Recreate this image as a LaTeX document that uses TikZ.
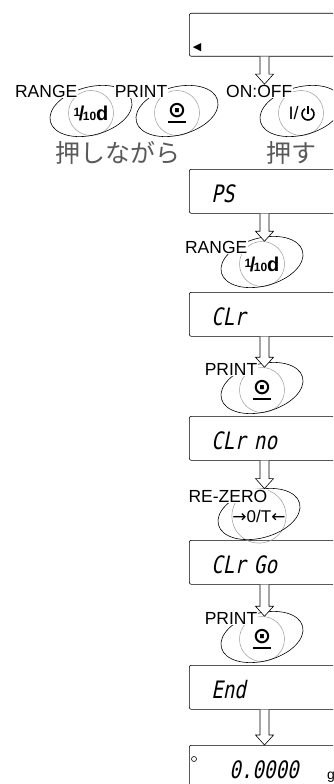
\documentclass[tikz,border=0pt]{standalone}
\usepackage{fontspec}
\setsansfont{Liberation Sans}
\newfontfamily\jpfont{Noto Sans CJK JP}
\newfontfamily\lcdfont{DejaVu Sans Mono}[FakeSlant=0.2,FakeStretch=0.8]
\newfontfamily\symfont{DejaVu Sans}
\usetikzlibrary{positioning, calc}

\tikzset{
	lcd/.style={draw, line width=0.6pt, rounded corners=2pt, anchor=north west, minimum height=44pt,
		text width=150pt, inner xsep=22pt, align=left, text height=22pt, text depth=0pt,
		font=\lcdfont\fontsize{24}{24}\selectfont},
	key/.style={circle, draw=black!40, line width=0.5pt, minimum size=45pt, inner sep=0pt,
		font=\sffamily\bfseries\fontsize{20}{20}\selectfont},
	shell/.style={line width=0.6pt},
	keyname/.style={fill=white, inner sep=0.5pt, font=\sffamily\fontsize{17.5}{17.5}\selectfont},
	arrowline/.style={line width=0.6pt, fill=white},
	jp/.style={font=\jpfont\fontsize{25}{25}\selectfont, text=black!65}
}

% hollow arrow from the bottom of a display down to the next item
\newcommand{\fatarrow}[2]{%
	\coordinate (fa-s) at ($(#1.south west)+(75.5,0)$);
	\coordinate (fa-t) at (fa-s |- #2);
	\draw[arrowline] ($(fa-s)+(-4.5,0)$) -- ($(fa-t)+(-4.5,-10)$) -- ($(fa-t)+(-9,-10)$) -- (fa-t)
		-- ($(fa-t)+(9,-10)$) -- ($(fa-t)+(4.5,-10)$) -- ($(fa-s)+(4.5,0)$);}
% tilted finger outline round a key
\newcommand{\shell}[1]{%
	\begin{scope}[shift={($(#1)+(0,-2)$)}, rotate=15]
	\draw[shell] (0,0) ellipse [x radius=42pt, y radius=24pt];
	\end{scope}}
\newcommand{\tenth}{\raisebox{4pt}{\fontsize{12}{12}\selectfont 1}\kern-1.5pt/\kern-1.5pt{\fontsize{12}{12}\selectfont 10}d}
\newcommand{\printsym}{\shortstack{{\symfont\fontsize{22}{22}\selectfont ⊙}\\[0pt]\rule{18pt}{2pt}}}

\begin{document}
\begin{tikzpicture}[x=1pt, y=-1pt]
	\useasboundingbox (0,0) rectangle (333,784);
	\clip (0,0) rectangle (333,784);

	% displays
	\node[lcd, minimum height=43pt] (b0) at (189,13) {};
	\node[font=\symfont\fontsize{11}{11}\selectfont, inner sep=0pt] (mark) at (197,48) {◀};
	\node[lcd] (bPS) at (189,169) {PS};
	\node[lcd] (bClr) at (189,292) {CLr};
	\node[lcd] (bClrNo) at (189,416) {CLr no};
	\node[lcd] (bClrGo) at (189,540) {CLr Go};
	\node[lcd] (bEnd) at (189,665) {End};
	\node[lcd, inner xsep=40pt] (bZero) at (189,745) {0.0000};
	\node[circle, draw, line width=0.6pt, minimum size=5pt, inner sep=0pt] (stable) at (194,759) {};
	\node[font=\sffamily\fontsize{14}{14}\selectfont, anchor=west, inner sep=0pt] (unit) at (327,777) {g};

	% keys
	\node[key] (kRangeA) at (91,113) {\tenth};
	\node[key] (kPrintA) at (177,113) {\printsym};
	\node[key, font=\sffamily\fontsize{18}{18}\selectfont] (kOnOff) at (301,113) {I/\kern15pt};
	\node[key] (kRange) at (262,264) {\tenth};
	\node[key] (kPrintB) at (262,390) {\printsym};
	\node[key, font=\sffamily\fontsize{17}{17}\selectfont] (kRezero) at (259,516) {{\symfont →}0/T{\symfont ←}};
	\node[key] (kPrintC) at (262,639) {\printsym};

	% power sign, drawn
	\draw[line width=1.6pt] ($(kOnOff)+(7,1)$) ++(60:6pt) arc[start angle=60, end angle=-240, radius=6pt];
	\draw[line width=1.6pt] ($(kOnOff)+(7,1)$) -- ++(0,-8);

	\foreach \k in {kRangeA, kPrintA, kOnOff, kRange, kPrintB, kRezero, kPrintC}
		\shell{\k};

	% key names
	\node[keyname, anchor=east] (lRangeA) at ($(kRangeA)+(-13,-22)$) {RANGE};
	\node[keyname, anchor=east] (lPrintA) at ($(kPrintA)+(-9,-22)$) {PRINT};
	\node[keyname, anchor=east] (lOnOff) at ($(kOnOff)+(-8,-22)$) {ON:OFF};
	\node[keyname, anchor=east] (lRange) at ($(kRange)+(-14,-17)$) {RANGE};
	\node[keyname, anchor=east] (lPrintB) at ($(kPrintB)+(-4,-21)$) {PRINT};
	\node[keyname, anchor=east] (lRezero) at ($(kRezero)+(9,-20)$) {RE-ZERO};
	\node[keyname, anchor=east] (lPrintC) at ($(kPrintC)+(-4,-21)$) {PRINT};

	\node[jp] (hold) at (118,153) {押しながら};
	\node[jp] (press) at (291,153) {押す};

	% arrows
	\fatarrow{b0}{lOnOff.north}
	\fatarrow{bPS}{kRange.north}
	\fatarrow{bClr}{kPrintB.north}
	\fatarrow{bClrNo}{kRezero.north}
	\fatarrow{bClrGo}{kPrintC.north}
	\fatarrow{bEnd}{bZero.north}
\end{tikzpicture}
\end{document}
